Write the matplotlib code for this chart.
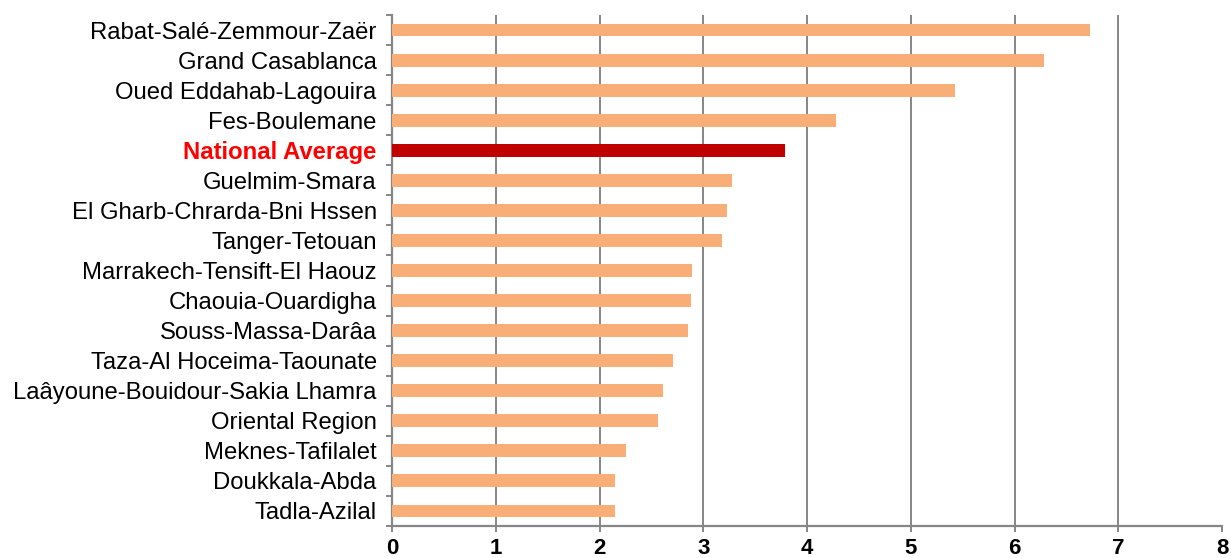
import matplotlib
matplotlib.use("Agg")
import matplotlib.pyplot as plt
import numpy as np

regions = [
    "Rabat-Salé-Zemmour-Zaër",
    "Grand Casablanca",
    "Oued Eddahab-Lagouira",
    "Fes-Boulemane",
    "National Average",
    "Guelmim-Smara",
    "El Gharb-Chrarda-Bni Hssen",
    "Tanger-Tetouan",
    "Marrakech-Tensift-El Haouz",
    "Chaouia-Ouardigha",
    "Souss-Massa-Darâa",
    "Taza-Al Hoceima-Taounate",
    "Laâyoune-Bouidour-Sakia Lhamra",
    "Oriental Region",
    "Meknes-Tafilalet",
    "Doukkala-Abda",
    "Tadla-Azilal",
]
values = [6.73, 6.28, 5.43, 4.28, 3.79, 3.28, 3.23, 3.18, 2.89, 2.88,
          2.85, 2.71, 2.61, 2.56, 2.26, 2.15, 2.15]
highlight = "National Average"
xticks = [0, 1, 2, 3, 4, 5, 6, 7, 8]

plt.rcParams['font.family'] = ['Liberation Sans', 'DejaVu Sans']

fig = plt.figure(figsize=(12.31, 5.58), dpi=100)
ax = fig.add_axes([392/1231, 1 - 526/558, (1222-392)/1231, (526-15)/558])

n = len(regions)
ypos = np.arange(n)[::-1]
colors = ['#C00000' if r == highlight else '#F9AE77' for r in regions]
ax.barh(ypos, values, height=0.43, color=colors, zorder=3)

ax.set_xlim(0, 8)
ax.set_ylim(-0.5, n - 0.5)

grid_c = '#868686'
for x in xticks[1:-1]:
    ax.axvline(x, color=grid_c, lw=1.4, zorder=1)

for s in ['top', 'right']:
    ax.spines[s].set_visible(False)
for s in ['left', 'bottom']:
    ax.spines[s].set_color(grid_c)
    ax.spines[s].set_linewidth(1.6)

ax.set_xticks(xticks)
ax.set_xticklabels([str(t) for t in xticks], fontsize=16, fontweight='bold')
ax.tick_params(axis='x', length=4, width=1.4, color=grid_c, pad=5)

ax.set_yticks(ypos)
ax.set_yticklabels(regions, fontsize=17.2)
ax.tick_params(axis='y', which='major', length=0, pad=11)
ax.set_yticks(np.arange(n + 1) - 0.5, minor=True)
ax.tick_params(axis='y', which='minor', length=4, width=1.4, color=grid_c)

for lbl in ax.get_yticklabels():
    if lbl.get_text() == highlight:
        lbl.set_color('#FF0000')
        lbl.set_fontweight('bold')

fig.savefig('out.png', dpi=100)
